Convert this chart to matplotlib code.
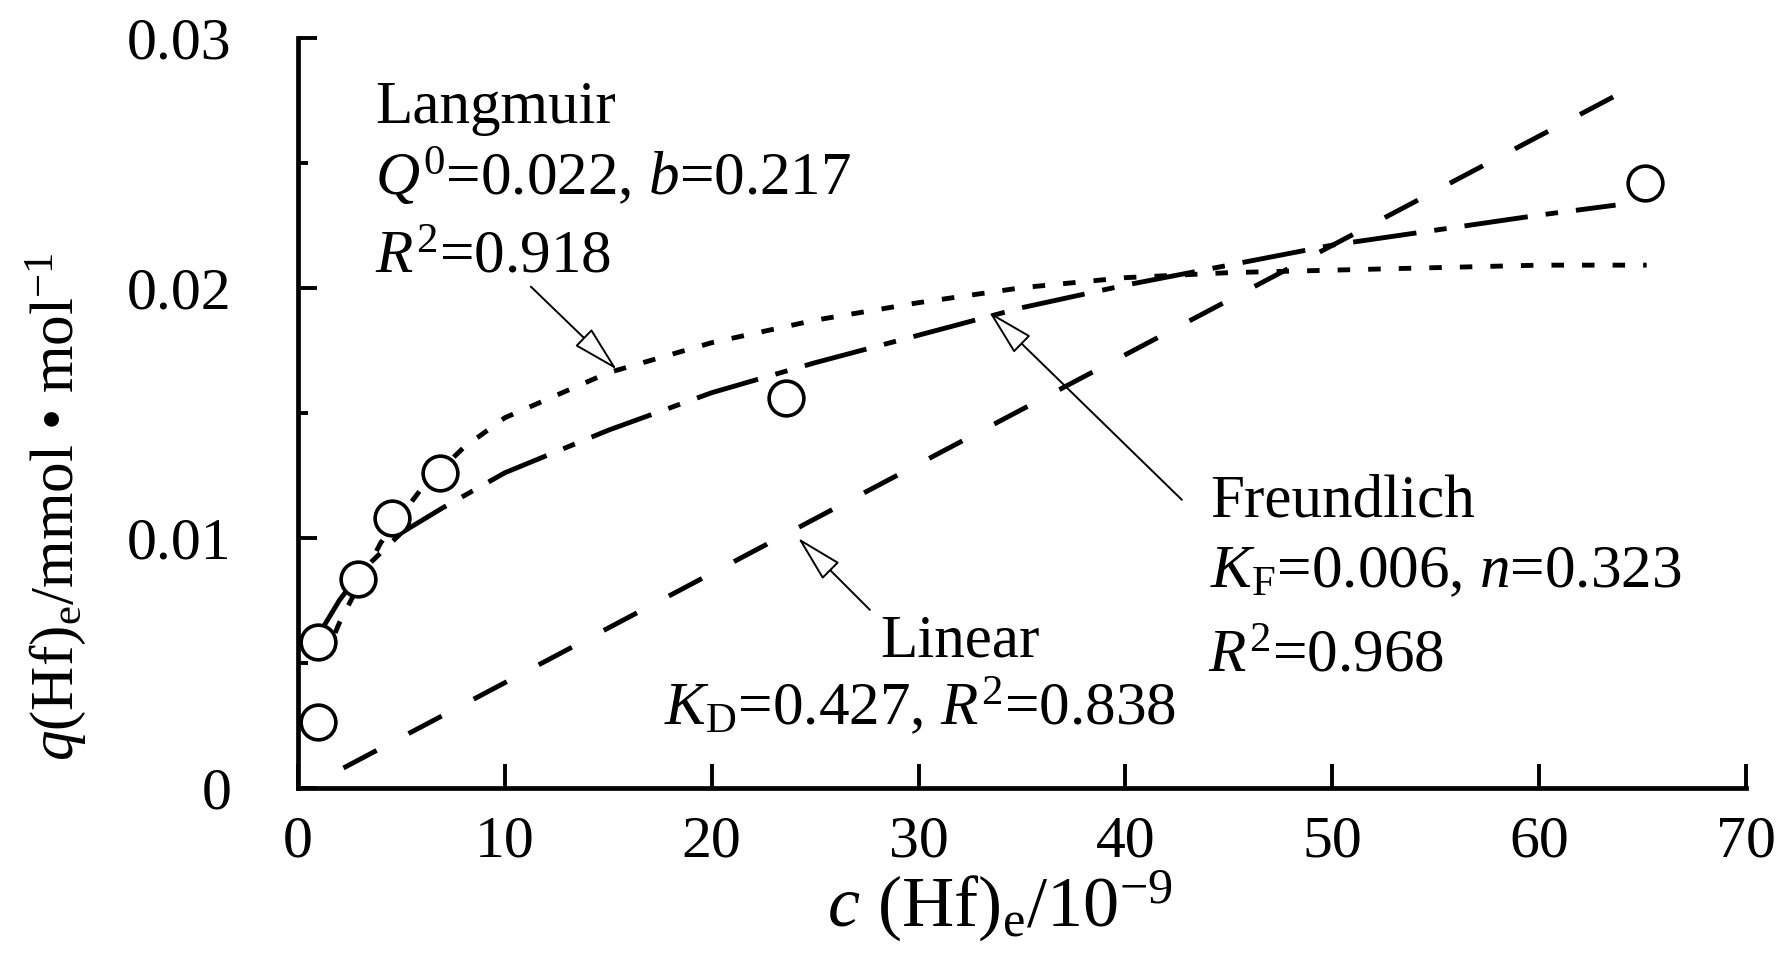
"""Adsorption isotherm of Hf: measured points with Langmuir, Freundlich and linear fits."""

import matplotlib
matplotlib.use("Agg")
import matplotlib.pyplot as plt
from matplotlib.ticker import MultipleLocator

plt.rcParams["font.family"] = ["Liberation Serif", "DejaVu Serif"]
plt.rcParams["mathtext.fontset"] = "custom"
plt.rcParams["mathtext.rm"] = "Liberation Serif"
plt.rcParams["mathtext.it"] = "Liberation Serif:italic"
plt.rcParams["lines.scale_dashes"] = False

# measured equilibrium data
c_obs = [0.98, 0.98, 2.91, 4.53, 6.86, 23.6, 65.1]
q_obs = [0.00265, 0.00585, 0.00835, 0.0108, 0.0126, 0.0156, 0.0242]

# fitted curves, sampled along c
c_lang = [1.8, 2, 4, 6, 8, 10, 15, 20, 25, 30, 35, 40, 45, 50, 55, 60, 65.2]
q_lang = [0.0062, 0.0066, 0.0098, 0.0120, 0.0136, 0.0148, 0.0166, 0.0178,
          0.0187, 0.0194, 0.0200, 0.0204, 0.0206, 0.0207, 0.0208, 0.0209, 0.0209]

c_freu = [1.2, 2, 3, 5, 7, 10, 15, 20, 25, 30, 35, 40, 45, 50, 55, 60, 63.7]
q_freu = [0.0064, 0.0075, 0.0086, 0.0102, 0.0112, 0.0126, 0.0143, 0.0158,
          0.0170, 0.0181, 0.0192, 0.0201, 0.0209, 0.0217, 0.0223, 0.0229, 0.0233]

c_lin = [2.2, 64.9]
q_lin = [0.0008, 0.0282]

x_ticks = [0, 10, 20, 30, 40, 50, 60, 70]
y_ticks = [0, 0.01, 0.02, 0.03]
y_tick_labels = ["0", "0.01", "0.02", "0.03"]

fig = plt.figure(figsize=(17.81, 9.69), dpi=100)
ax = fig.add_axes([0.1673, 0.1868, 0.8130, 0.7745])

lw = 3.5
ax.plot(c_lang, q_lang, color="black", lw=lw, dashes=(9, 13))
ax.plot(c_freu, q_freu, color="black", lw=lw, dashes=(46, 13, 9, 13))
ax.plot(c_lin, q_lin, color="black", lw=lw, dashes=(27, 26))
ax.plot(c_obs, q_obs, "o", ms=25, mfc="white", mec="black", mew=2.6,
        clip_on=False, zorder=5)

ax.set_xlim(0, 70)
ax.set_ylim(0, 0.03)
ax.set_xticks(x_ticks)
ax.set_yticks(y_ticks)
ax.set_yticklabels(y_tick_labels)
ax.yaxis.set_minor_locator(MultipleLocator(0.005))

for side in ("top", "right"):
    ax.spines[side].set_visible(False)
for side in ("left", "bottom"):
    ax.spines[side].set_linewidth(3.4)

ax.tick_params(axis="x", which="major", direction="in", length=17, width=2.8,
               labelsize=43, pad=20)
ax.tick_params(axis="y", which="major", direction="in", length=14, width=2.8,
               labelsize=43, pad=48)
ax.tick_params(axis="y", which="minor", direction="in", length=7, width=2.8)

ax.set_xlabel(r"$c$ (Hf)$_{\mathrm{e}}$/10$^{-9}$", fontsize=52)
ax.xaxis.set_label_coords(0.485, -0.108)
ax.set_ylabel(r"$q$(Hf)$_{\mathrm{e}}$/mmol • mol$^{-1}$", fontsize=44)
ax.yaxis.set_label_coords(-0.145, 0.375)

fs = 44
# Langmuir block
ax.text(3.72, 0.0266, "Langmuir", fontsize=fs, va="baseline")
ax.text(3.72, 0.02372, r"$Q^{0}$=0.022, $b$=0.217", fontsize=fs, va="baseline")
ax.text(3.72, 0.0206, r"$R^{2}$=0.918", fontsize=fs, va="baseline")

# Freundlich block
ax.text(44.08, 0.01084, "Freundlich", fontsize=fs, va="baseline")
ax.text(44.08, 0.00804, r"$K_{\mathrm{F}}$=0.006, $n$=0.323", fontsize=fs, va="baseline")
ax.text(44.0, 0.00464, r"$R^{2}$=0.968", fontsize=fs, va="baseline")

# Linear block
ax.text(28.13, 0.00524, "Linear", fontsize=fs, va="baseline")
ax.text(17.7, 0.00252, r"$K_{\mathrm{D}}$=0.427, $R^{2}$=0.838", fontsize=fs, va="baseline")

arrow = dict(arrowstyle="-|>,head_length=1.5,head_width=0.38", fc="white",
             ec="black", lw=1.4, mutation_scale=20, shrinkA=0, shrinkB=0)
ax.annotate("", xy=(15.42, 0.01672), xytext=(11.26, 0.02004), arrowprops=arrow)
ax.annotate("", xy=(33.40, 0.01904), xytext=(42.73, 0.01152), arrowprops=arrow)
ax.annotate("", xy=(24.17, 0.0100), xytext=(27.65, 0.00712), arrowprops=arrow)

fig.savefig("out.png", dpi=100)
